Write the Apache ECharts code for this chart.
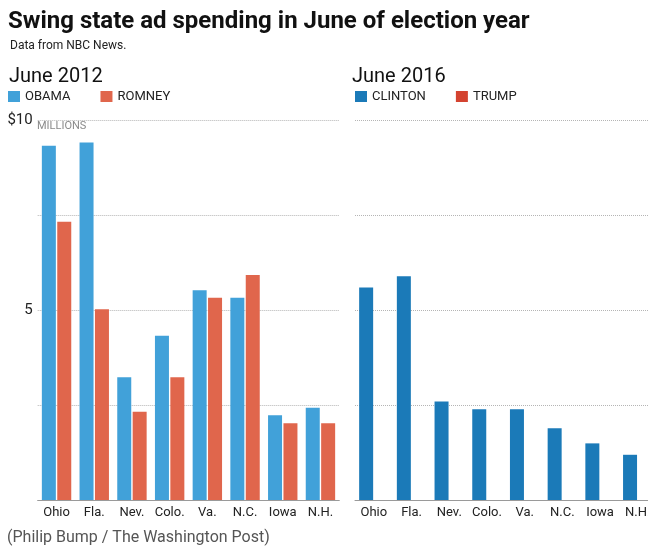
<!DOCTYPE html>
<html>
<head>
<meta charset="utf-8">
<script src="https://cdn.jsdelivr.net/npm/echarts@6/dist/echarts.min.js"></script>
<style>
  html, body { margin: 0; padding: 0; background: #fff; }
  #chart { width: 648px; height: 548px; }
</style>
</head>
<body>
<div id="chart"></div>
<script>
// states on both panels
const states = ['Ohio', 'Fla.', 'Nev.', 'Colo.', 'Va.', 'N.C.', 'Iowa', 'N.H.'];

// June 2012, $ millions
const obama2012 = [9.32, 9.41, 3.23, 4.32, 5.52, 5.32, 2.23, 2.43];
const romney2012 = [7.32, 5.02, 2.32, 3.23, 5.32, 5.92, 2.02, 2.02];

// June 2016, $ millions (Trump spent nothing)
const clinton2016 = [5.59, 5.89, 2.59, 2.39, 2.39, 1.89, 1.49, 1.19];
const trump2016 = [0, 0, 0, 0, 0, 0, 0, 0];

const yTicks = { 10: '$10', 5: '5' };

const font = "'Roboto', 'Liberation Sans', sans-serif";
const colors = { obama: '#41a1d9', romney: '#e0664c', clinton: '#1b7ab8', trump: '#d44330' };

const gridW = 301.6;

const yAxisBase = {
  type: 'value',
  min: 0,
  max: 10,
  interval: 2.5,
  axisLine: { show: false },
  axisTick: { show: false },
  splitLine: { lineStyle: { type: 'dotted', color: '#b5b5b5', width: 1 } }
};

const xAxisBase = {
  type: 'category',
  data: states,
  axisTick: { show: false },
  axisLine: { lineStyle: { color: '#9a9a9a', width: 1 } },
  axisLabel: { color: '#222', fontSize: 13, fontFamily: font, margin: 6, interval: 0 }
};

const option = {
  animation: false,
  title: [
    {
      text: 'Swing state ad spending in June of election year',
      left: 3, top: 5,
      textStyle: { fontSize: 24, fontWeight: 'bold', color: '#111', fontFamily: "'Roboto', sans-serif" }
    },
    {
      text: 'Data from NBC News.',
      left: 5, top: 35,
      textStyle: { fontSize: 12, fontWeight: 'normal', color: '#222', fontFamily: font }
    },
    {
      text: 'June 2012',
      left: 4, top: 62,
      textStyle: { fontSize: 20, fontWeight: 'normal', color: '#111', fontFamily: font }
    },
    {
      text: 'June 2016',
      left: 347, top: 62,
      textStyle: { fontSize: 20, fontWeight: 'normal', color: '#111', fontFamily: font }
    }
  ],
  legend: [
    {
      data: ['OBAMA', 'ROMNEY'],
      left: 3, top: 85,
      icon: 'rect', itemWidth: 12, itemHeight: 11, itemGap: 30,
      textStyle: { fontSize: 13, color: '#222', fontFamily: font }
    },
    {
      data: ['CLINTON', 'TRUMP'],
      left: 350, top: 85,
      icon: 'rect', itemWidth: 12, itemHeight: 11, itemGap: 30,
      textStyle: { fontSize: 13, color: '#222', fontFamily: font }
    }
  ],
  grid: [
    { left: 37.7, top: 120, width: gridW, height: 380, outerBoundsMode: 'none' },
    { left: 355, top: 120, width: gridW, height: 380, outerBoundsMode: 'none' }
  ],
  xAxis: [
    Object.assign({ gridIndex: 0 }, xAxisBase),
    Object.assign({ gridIndex: 1 }, xAxisBase)
  ],
  yAxis: [
    Object.assign({ gridIndex: 0 }, yAxisBase, {
      axisLabel: {
        color: '#222', fontSize: 15, fontFamily: font, margin: 5,
        formatter: v => yTicks[v] || ''
      }
    }),
    Object.assign({ gridIndex: 1 }, yAxisBase, { axisLabel: { show: false } })
  ],
  graphic: [
    {
      type: 'text', left: 37, top: 121,
      style: { text: 'MILLIONS', fontSize: 11, fill: '#8a8a8a', fontFamily: font }
    },
    {
      type: 'text', left: 7, top: 530,
      style: { text: '(Philip Bump / The Washington Post)', fontSize: 16, fill: '#555', fontFamily: font }
    }
  ],
  series: [
    { name: 'OBAMA', type: 'bar', xAxisIndex: 0, yAxisIndex: 0, data: obama2012,
      barWidth: 14, barGap: '10%', itemStyle: { color: colors.obama } },
    { name: 'ROMNEY', type: 'bar', xAxisIndex: 0, yAxisIndex: 0, data: romney2012,
      barWidth: 14, barGap: '10%', itemStyle: { color: colors.romney } },
    { name: 'CLINTON', type: 'bar', xAxisIndex: 1, yAxisIndex: 1, data: clinton2016,
      barWidth: 14, barGap: '10%', itemStyle: { color: colors.clinton } },
    { name: 'TRUMP', type: 'bar', xAxisIndex: 1, yAxisIndex: 1, data: trump2016,
      barWidth: 14, barGap: '10%', itemStyle: { color: colors.trump } }
  ]
};

const myChart = echarts.init(document.getElementById('chart'));
myChart.setOption(option);
</script>
</body>
</html>
